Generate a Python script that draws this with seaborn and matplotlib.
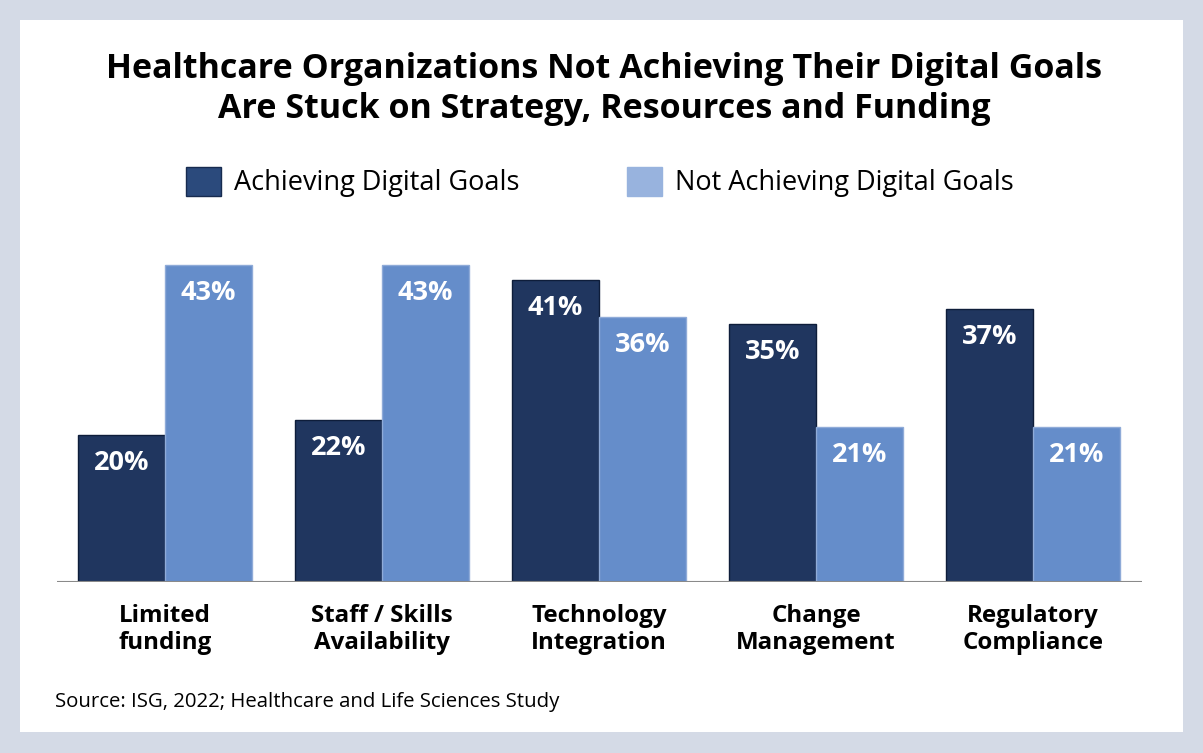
import pandas as pd
import matplotlib.pyplot as plt
import seaborn as sns
from matplotlib.patches import Patch, Rectangle

categories = ["Limited\nfunding", "Staff / Skills\nAvailability", "Technology\nIntegration",
              "Change\nManagement", "Regulatory\nCompliance"]
achieving = [20, 22, 41, 35, 37]
not_achieving = [43, 43, 36, 21, 21]
series = ["Achieving Digital Goals", "Not Achieving Digital Goals"]

df = pd.DataFrame({
    "Category": categories * 2,
    "Group": [series[0]] * 5 + [series[1]] * 5,
    "Value": achieving + not_achieving,
})

sns.set_style("white")
plt.rcParams['font.family'] = ['Open Sans', 'DejaVu Sans']
plt.rcParams['text.color'] = 'black'
plt.rcParams['xtick.color'] = 'black'

BORDER = "#d4dae6"
DARK = "#20365f"
LIGHT = "#658dca"

fig = plt.figure(figsize=(12.03, 7.53), dpi=100, facecolor=BORDER)
fig.patches.append(Rectangle((20 / 1203, 21 / 753), 1163 / 1203, 712 / 753,
                             transform=fig.transFigure, facecolor="white", edgecolor="none", zorder=-5))

ax = fig.add_axes([56.5 / 1203, 171 / 753, 1085 / 1203, 331.7 / 753])
ax.set_zorder(2)
ax.set_facecolor("none")
sns.barplot(data=df, x="Category", y="Value", hue="Group", palette=[DARK, LIGHT],
            width=0.8, saturation=1, legend=False, ax=ax)

for cont, ec in zip(ax.containers, ["#0e1d3a", "#8fabd8"]):
    for p in cont:
        p.set_edgecolor(ec)
        p.set_linewidth(1.0)
        ax.annotate(f"{p.get_height():.0f}%", xy=(p.get_x() + p.get_width() / 2, p.get_height()),
                    xytext=(0, -28), textcoords="offset pixels", ha="center", va="center",
                    color="white", fontsize=19.5, fontweight="bold")

ax.set_xlim(-0.5, 4.5)
ax.set_ylim(0, 45)
ax.axhline(0, color="#8a8a8a", lw=1.5, zorder=5)
sns.despine(ax=ax, left=True, bottom=True)
ax.set_yticks([])
ax.set_xlabel("")
ax.set_ylabel("")
ax.tick_params(axis="x", length=0, pad=16)
for t in ax.get_xticklabels():
    t.set_fontsize(17.4)
    t.set_fontweight("bold")
    t.set_linespacing(1.18)

fig.text(0.502, 1 - 89 / 753,
         "Healthcare Organizations Not Achieving Their Digital Goals\nAre Stuck on Strategy, Resources and Funding",
         ha="center", va="center", fontsize=24.5, fontweight="bold", linespacing=1.25)

handles = [Patch(facecolor="#2b4a7c", edgecolor="#172b4f", label=series[0]),
           Patch(facecolor="#98b3de", edgecolor="#98b3de", label=series[1])]
fig.legend(handles=handles, loc="center", bbox_to_anchor=(600 / 1203, 1 - 182 / 753), ncol=2,
           frameon=False, prop={"size": 19.5},
           handlelength=1.29, handleheight=1.29, handletextpad=0.5, columnspacing=3.95)

fig.text(55 / 1203, 1 - 702 / 753, "Source: ISG, 2022; Healthcare and Life Sciences Study",
         ha="left", va="center", fontsize=14.7)

fig.savefig("out.png", dpi=100, facecolor=BORDER)
